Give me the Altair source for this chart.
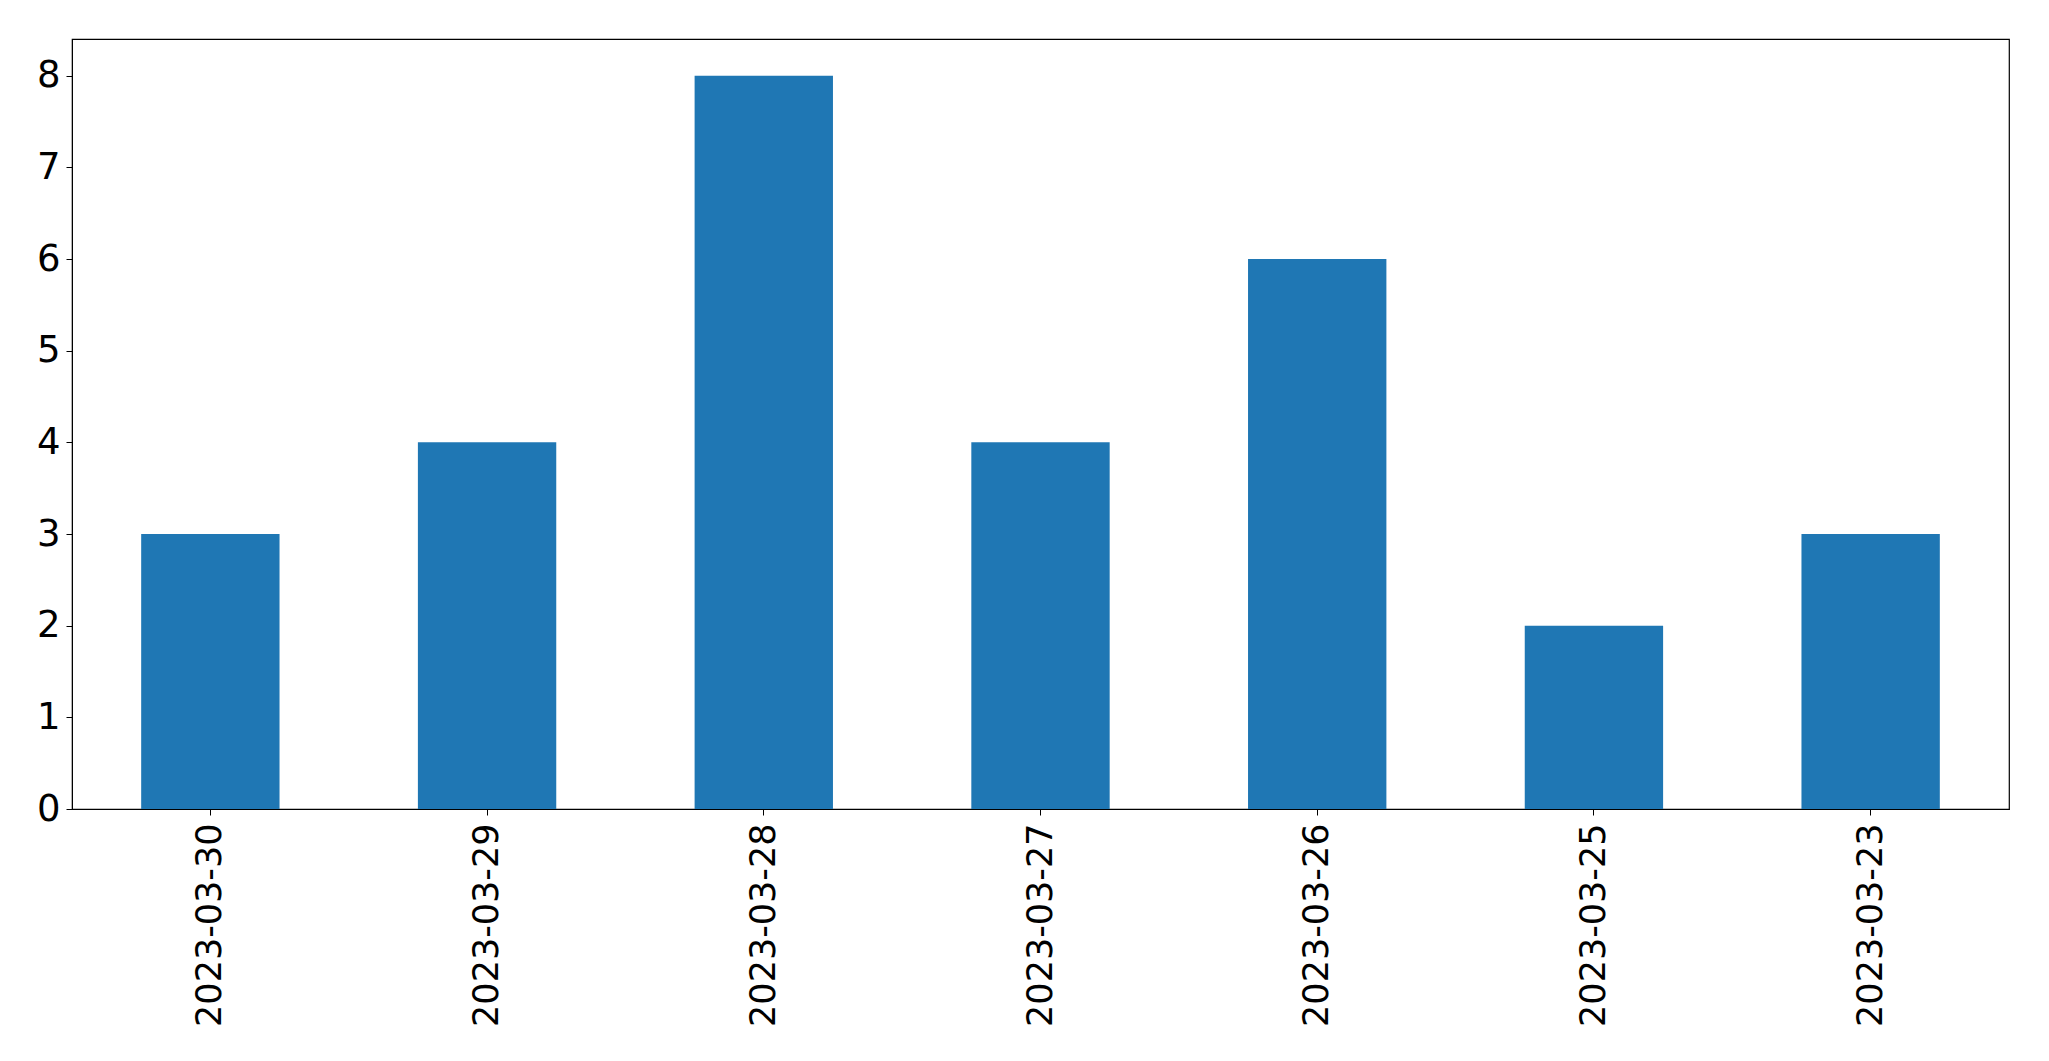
import altair as alt
import pandas as pd

dates = ["2023-03-30", "2023-03-29", "2023-03-28", "2023-03-27", "2023-03-26", "2023-03-25", "2023-03-23"]
counts = [3, 4, 8, 4, 6, 2, 3]

df = pd.DataFrame({"date": dates, "count": counts})

chart = alt.Chart(df).mark_bar(color="#1f77b4").encode(
    x=alt.X("date:N", sort=dates, title=None,
            scale=alt.Scale(paddingInner=0.5, paddingOuter=0.25),
            axis=alt.Axis(labelAngle=-90, labelFontSize=35, labelFont="DejaVu Sans",
                          labelColor="black", tickColor="black", tickSize=6,
                          labelPadding=8, domainColor="black", labelBaseline="middle",
                          labelAlign="right", labelLimit=1000)),
    y=alt.Y("count:Q", title=None,
            scale=alt.Scale(domain=[0, 8.4], nice=False),
            axis=alt.Axis(values=list(range(0, 9)), grid=False, labelFontSize=37,
                          labelFont="DejaVu Sans", labelColor="black", tickColor="black",
                          tickSize=6, labelPadding=6, domainColor="black", format="d",
                          labelBaseline="middle")),
).properties(
    width=1937, height=770,
    autosize=alt.AutoSizeParams(type="none"),
    padding={"left": 64, "top": 31, "right": 30, "bottom": 240},
).configure_view(stroke="black", strokeWidth=1.2)

chart.save("out.html", embed_options={"renderer": "svg", "actions": False})
